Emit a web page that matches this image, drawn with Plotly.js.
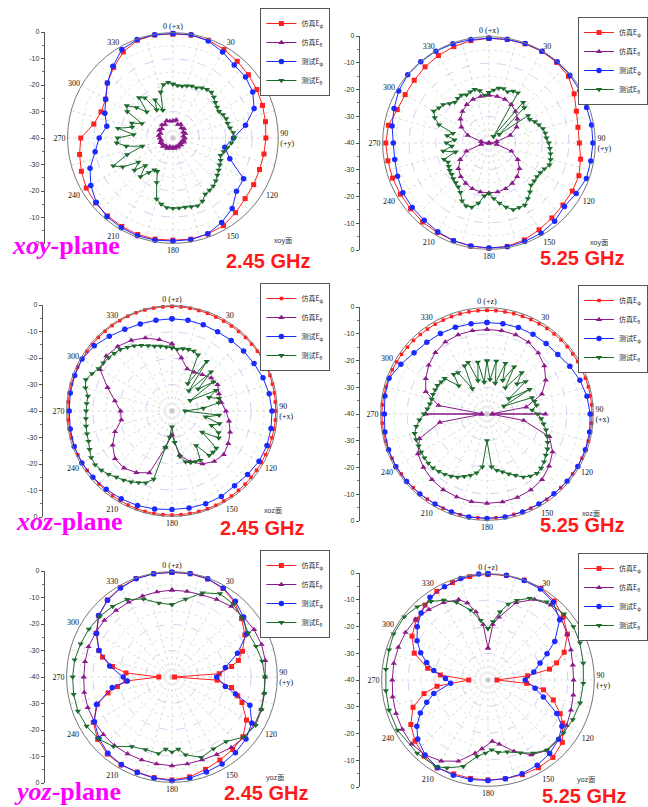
<!DOCTYPE html>
<html><head><meta charset="utf-8">
<script src="https://cdn.plot.ly/plotly-3.0.1.min.js"></script>
<style>html,body{margin:0;padding:0;background:#fff}#chart{width:648px;height:807px}</style>
</head><body><div id="chart"></div>
<script>
const W = 648, H = 807;

// ---------- angle grids ----------
const TH10 = [0,10,20,30,40,50,60,70,80,90,100,110,120,130,140,150,160,170,180,190,200,210,220,230,240,250,260,270,280,290,300,310,320,330,340,350];
const TH5 = [0,5,10,15,20,25,30,35,40,45,50,55,60,65,70,75,80,85,90,95,100,105,110,115,120,125,130,135,140,145,150,155,160,165,170,175,180,185,190,195,200,205,210,215,220,225,230,235,240,245,250,255,260,265,270,275,280,285,290,295,300,305,310,315,320,325,330,335,340,345,350,355];
const GRID_ANGLES = [0,15,30,45,60,75,90,105,120,135,150,165,180,195,210,225,240,255,270,285,300,315,330,345];
const LABEL_ANGLES = [0,30,60,90,120,150,180,210,240,270,300,330];
const LEFT_TICKVALS = [40,30,20,10,0,-10,-20,-30,-40];
const LEFT_TICKTEXT = ['0','-10','-20','-30','-40','-30','-20','-10','0'];

// ---------- panel 1: xoy, 2.45 GHz ----------
const p1_red = [-0.5,-0.3,-0.5,-1.2,-2.0,-2.6,-3.2,-3.8,-4.3,-4.7,-4.9,-5.0,-4.6,-4.2,-3.0,-1.6,-1.2,-1.0,-1.2,-1.0,-1.0,-1.2,-1.4,-1.6,-2.0,-3.0,-4.0,-5.0,-9.5,-11.0,-10.5,-7.5,-5.0,-2.3,-0.5,-0.3];
const p1_purple = [-33.5,-33,-34.5,-34,-35,-34.5,-35.5,-35,-36,-35.5,-36,-35.5,-36.5,-36,-36.5,-36,-36.5,-36,-36.5,-36,-36.5,-35.5,-36,-35,-35.5,-35,-35.5,-35,-34.5,-35,-34,-34.5,-33.5,-34,-33,-33.5];
const p1_blue = [-0.3,-0.2,-0.8,-2.3,-3.8,-4.0,-5.0,-7.2,-12,-17,-20,-17,-9,-8.5,-5,-3,-1.3,-0.8,-0.9,-0.6,-0.5,-0.7,-1.0,-2.0,-4.0,-6.5,-10,-12,-14.5,-12.5,-10.5,-7.5,-4.5,-1.2,-0.2,-0.2];
const p1_green = [-19.5,-20,-20,-19.5,-19,-19,-18,-17.5,-17.3,-18,-19,-19.5,-19.8,-19,-18.5,-18.5,-18,-17,-16.6,-17.7,-19,-20,-20.8,-20,-19.5,-18.8,-18,-17,-16.2,-15.8,-15.4,-13.5,-12.6,-13,-13.3,-13.3,-13.3,-13.5,-14.5,-16,-22,-26,-26,-24,-20.8,-25.2,-21,-24,-18,-15,-21.5,-28,-22,-18.6,-19,-25,-18.8,-24,-23.4,-27,-20,-18.6,-22,-26,-20,-21.4,-27.7,-24,-28.8,-22,-19.4,-18.8];

// ---------- panel 2: xoy, 5.25 GHz ----------
const p2_red = [-0.6,-0.5,-0.3,-0.2,-0.4,-1.0,-3.0,-5.0,-6.0,-6.0,-5.0,-4.0,-3.8,-3.7,-3.2,-2.3,-1.2,-0.5,-0.4,-0.6,-0.9,-1.1,-1.2,-1.5,-1.5,-1.4,-1.4,-1.2,-1.6,-3.3,-3.6,-3.3,-2.6,-2.0,-1.4,-0.9];
const p2_purple = [-22,-22.2,-22.5,-23.3,-24.5,-26,-28,-31.5,-37,-40,-37,-31,-27.5,-25,-23.5,-22.5,-21.7,-21.3,-21.2,-21.3,-21.7,-22.5,-23.5,-25,-27.5,-31,-37,-40,-37,-31.5,-28,-26,-24.5,-23.3,-22.5,-22.2];
const p2_blue = [-0.6,-0.4,-0.2,-0.1,-0.1,-0.3,-0.5,-0.9,-0.8,-0.9,-1.1,-1.0,-2.1,-2.9,-1.6,-0.8,-0.6,-0.4,-0.5,-0.7,-0.9,-1.5,-2.1,-2.3,-2.6,-3.4,-4.0,-4.0,-3.0,-2.0,-0.8,-0.1,-0.1,-0.1,-0.3,-0.5];
const p2_green = [-21,-20,-19,-18.8,-19.5,-18.5,-18.2,-37,-20,-21.2,-35,-22,-22.3,-21,-20,-19,-18.5,-18.3,-17.5,-17,-16.5,-16,-15.8,-17,-17.7,-18,-17.8,-17.6,-16,-14.5,-13,-13.2,-13.3,-15,-17,-19,-21,-20,-17,-15,-14.8,-16,-18.5,-19.8,-20.5,-21,-21.7,-22,-22.5,-23,-22,-27,-22.5,-26,-24,-27,-24,-26,-20,-17.5,-16,-17,-17.5,-19,-20,-19.5,-19.2,-20,-19.5,-19.1,-20,-22];

// ---------- panel 3: xoz, 2.45 GHz ----------
const p3_red = [-0.3,-0.3,-0.4,-0.5,-0.5,-0.6,-0.6,-0.6,-0.6,-0.5,-0.5,-0.4,-0.4,-0.4,-0.4,-0.5,-0.5,-0.6,-0.6,-0.6,-0.6,-0.7,-0.7,-0.8,-0.8,-0.8,-0.8,-0.7,-0.7,-0.6,-0.6,-0.5,-0.5,-0.5,-0.5,-0.5,-0.5,-0.5,-0.5,-0.5,-0.6,-0.6,-0.7,-0.7,-0.8,-0.8,-0.8,-0.7,-0.7,-0.6,-0.6,-0.5,-0.5,-0.5,-0.5,-0.5,-0.5,-0.5,-0.5,-0.5,-0.6,-0.6,-0.6,-0.5,-0.5,-0.4,-0.4,-0.3,-0.3,-0.3,-0.3,-0.3];
const p3_purple = [-14.5,-19.5,-23,-23,-22,-20.5,-20,-21,-21,-19.5,-18,-16.5,-15.3,-14.3,-15,-16.8,-19.5,-23,-31,-26,-15,-13,-11.7,-11.8,-14,-17,-20.5,-20.5,-18,-14,-8.5,-7.5,-8,-9,-10.5,-12.5];
const p3_blue = [-5.0,-5.0,-5.2,-5.3,-5.0,-4.5,-4.0,-3.2,-2.5,-2.0,-1.8,-1.6,-1.8,-2.5,-3.0,-2.5,-2.5,-2.6,-2.6,-2.2,-1.8,-1.5,-1.2,-0.8,-0.5,-0.5,-0.8,-1.0,-0.8,-0.7,-0.6,-1.5,-3.0,-4.2,-4.8,-5.0];
const p3_green = [-16,-16.4,-16,-15.8,-15.8,-16.5,-28,-17,-30,-19,-27,-20.8,-32,-21.5,-25,-21.5,-22,-28,-35,-22,-27,-21.3,-24,-20.5,-19.5,-26,-18,-17.9,-18,-24,-18.4,-18.8,-19.2,-20,-22.5,-28,-34,-30,-26,-13.2,-11,-10,-8.9,-8,-7.2,-6,-5,-4.4,-4.6,-5.5,-6.3,-6.6,-6.9,-7.2,-7.4,-7.5,-7.6,-6,-5.2,-6.5,-7.8,-8.2,-8.6,-9,-9.5,-10.5,-11.4,-12.5,-13.6,-14.5,-15,-15.6];

// ---------- panel 4: xoz, 5.25 GHz ----------
const p4_red = [-1.0,-1.0,-1.0,-0.9,-0.9,-0.8,-0.8,-0.7,-0.7,-0.6,-0.6,-0.6,-0.6,-0.6,-0.6,-0.5,-0.5,-0.5,-0.5,-0.5,-0.5,-0.5,-0.6,-0.6,-0.7,-0.7,-0.8,-0.8,-0.8,-0.8,-0.9,-0.9,-0.9,-0.9,-0.8,-0.8,-0.8,-0.8,-0.8,-0.8,-0.9,-0.9,-0.9,-0.9,-0.8,-0.8,-0.7,-0.7,-0.6,-0.6,-0.5,-0.5,-0.5,-0.5,-0.5,-0.5,-0.6,-0.6,-0.7,-0.7,-0.8,-0.8,-0.9,-0.9,-1.0,-1.0,-1.0,-1.0,-1.0,-1.0,-1.0,-1.0];
const p4_purple_th = [0,10,20,30,40,50,60,70,80,87,90,93,100,110,120,130,140,150,160,170,180,190,200,210,220,230,240,250,260,267,270,273,280,290,300,310,320,330,340,350];
const p4_purple = [-8.2,-8.2,-8.3,-8.8,-10,-11.8,-14.5,-18,-25,-38,-18,-38,-26,-15,-11.5,-9.5,-7.8,-7,-6.6,-6.4,-6.4,-6.5,-6.8,-7.1,-7.8,-8.8,-10,-13,-22,-38,-17,-38,-21.5,-15.5,-13.4,-11.4,-9.8,-8.7,-8.3,-8.2];
const p4_blue = [-5.6,-5.5,-5.4,-5.4,-5.4,-5.2,-4.0,-2.8,-1.8,-1.2,-0.8,-0.6,-0.5,-0.6,-0.8,-0.9,-0.8,-0.7,-0.7,-0.7,-0.8,-0.9,-0.7,-0.5,-0.4,-0.6,-1.0,-1.4,-1.0,-0.8,-2.6,-4.2,-4.8,-5.0,-5.3,-5.5];
const p4_green = [-20,-27,-19.8,-28,-19.7,-26,-19.5,-28,-19.7,-24,-21,-30,-21.5,-33,-22,-21.5,-21,-23,-21,-19.5,-18.4,-17,-16,-14.8,-13.7,-13,-12,-11.2,-10.8,-11.5,-12.6,-14.5,-16,-17.5,-18.5,-20,-30,-20,-17.5,-16.1,-15,-13.8,-13,-12.3,-11.8,-11.3,-11.2,-11.3,-11.4,-11.6,-11.7,-11.8,-13,-14.5,-16.3,-17.5,-18.2,-18.5,-18.4,-18.5,-18.5,-19,-19.2,-25,-20.5,-21,-29,-20,-19.3,-27,-20.2,-28];

// ---------- panel 5: yoz, 2.45 GHz ----------
const p5_red_th = [0,10,20,30,40,50,60,70,76,80,86,90,94,100,106,110,120,130,140,150,160,170,180,190,200,210,220,230,240,250,256,260,265,270,275,280,286,290,300,310,320,330,340,350];
const p5_red = [-0.3,-0.2,-0.4,-1.2,-3.0,-5.5,-8,-11.5,-14,-17,-22,-39,-22.8,-17,-14,-11.7,-7.3,-4.8,-4.1,-3.6,-2.7,-1.5,-0.9,-1.2,-1.6,-1.4,-1.8,-3.2,-5.5,-10,-15,-19,-22.4,-35,-22.5,-17.1,-12.6,-10.5,-6.8,-3.8,-1.8,-0.8,-0.2,-0.2];
const p5_purple = [-7.0,-7.0,-6.8,-6.0,-5.0,-4.5,-4.0,-3.8,-4.0,-4.6,-4.5,-4.0,-3.8,-4.2,-5,-6,-6.5,-6.5,-6.3,-6.5,-6.5,-6.3,-6,-6,-6,-6,-6.2,-6.5,-6.5,-6.3,-6.5,-6.5,-7,-7.2,-7.3,-7.2];
const p5_blue_th = [0,10,20,30,40,50,60,70,80,90,100,105,110,120,130,140,150,160,170,180,190,200,210,220,230,240,250,260,265,270,280,290,300,310,320,330,340,350];
const p5_blue = [-0.2,-0.1,-0.3,-1.0,-2.5,-4.5,-7.2,-13.5,-19.4,-23,-19.4,-15,-8.5,-5,-3.3,-2.5,-1.9,-1.6,-1.0,-0.6,-1.0,-1.4,-1.6,-2.2,-3.8,-6,-9.5,-17,-23,-21.5,-16,-10.5,-7,-3.6,-2,-1,-0.3,-0.2];
const p5_green_th = [0,10,20,30,40,50,60,70,80,90,100,110,120,130,140,150,160,170,175,180,185,190,200,210,220,230,240,250,260,270,280,290,300,310,320,330,340,350];
const p5_green = [-12.5,-10,-6,-3.5,-3.8,-5.2,-6.5,-6.0,-5.2,-4.7,-4.3,-3.8,-3.3,-4.5,-8,-8.5,-7.5,-10,-12.5,-11.5,-12.5,-10.5,-10.7,-9.5,-5.5,-3.5,-2.6,-2.0,-2.1,-2.3,-2.5,-3.1,-3.6,-4.2,-5,-6,-8.5,-11.5];

// ---------- panel 6: yoz, 5.25 GHz ----------
const p6_red_th = [0,10,20,30,40,50,60,70,76,80,84,90,95,100,107,115,120,130,140,150,160,170,180,190,200,210,220,230,240,250,258,263,270,276,281,290,300,310,320,330,340,350];
const p6_red = [-0.2,-0.1,0,-0.1,-1.2,-3.0,-5.5,-9.5,-13.4,-16.5,-25,-36.6,-25.4,-18.8,-14.3,-10,-7.5,-3.5,-2.0,-1.9,-2.1,-2.3,-2.4,-2.4,-2.4,-1.8,-2.6,-4.2,-6.5,-10,-15.4,-20.7,-32.8,-22,-16.9,-10.5,-7,-4.8,-3.2,-1.5,-1.0,-0.5];
const p6_purple_th = [0,5,10,20,30,40,50,60,70,80,90,100,110,120,130,140,150,160,170,176,185,190,200,210,220,230,240,250,260,270,280,290,300,310,320,330,340,345,350,355];
const p6_purple = [-28,-19,-16,-9,-5,-3.2,-4.0,-5.6,-6.8,-7.6,-7.8,-7.4,-6.8,-5.8,-5.2,-5.4,-7.5,-11.5,-15.5,-16.9,-14,-12,-7.5,-4.8,-3.2,-2.5,-2.8,-3.2,-3.6,-4,-4,-4.1,-4.2,-4.4,-5.4,-6.4,-7.8,-10,-14,-19];
const p6_blue_th = [0,10,20,30,40,50,60,66,72,80,90,100,107,116,122,130,140,150,160,170,180,190,200,210,220,230,237,244,250,256,265,272,280,286,292,299,307,315,325,335,345,355];
const p6_blue = [0,0,-0.2,-0.5,-1.8,-4.8,-11,-15.7,-19.4,-22.5,-26,-22,-18.2,-11.2,-7.2,-5.3,-3.9,-3,-2.5,-2.3,-2.2,-2,-1.9,-2,-3.2,-5.5,-8.1,-11.7,-15.5,-19,-25.9,-24,-19.3,-16,-12.7,-9.5,-6.7,-4.4,-2,-1.3,-0.5,0];
const p6_green_th = [0,5,10,15,20,27,37,49,58,68,80,92,104,115,125,140,148,156,165,172,177,182,188,196,205,211,224,241,253,264,276,287,296,307,316,324,331,338,346,353];
const p6_green = [-20.6,-18,-14,-10.5,-8.1,-5.5,-3.2,-2.1,-2.1,-2.7,-3.6,-4.1,-4.3,-4.8,-5.3,-5.6,-7.6,-10,-12,-12.5,-13.7,-12.5,-11,-6.2,-3.5,-2,-1.7,-1.1,-1.1,-1.4,-1.4,-1.1,-0.5,-0.5,-1.7,-3.5,-5.7,-8.5,-12.9,-17.4];

// ---------- legend names ----------
const NAME_RED = '仿真E<sub>φ</sub>';
const NAME_PURPLE = '仿真E<sub>θ</sub>';
const NAME_BLUE = '测试E<sub>φ</sub>';
const NAME_GREEN = '测试E<sub>θ</sub>';

const SERIES = [
  [[TH10,p1_red],[TH10,p1_purple],[TH10,p1_blue],[TH5,p1_green]],
  [[TH10,p2_red],[TH10,p2_purple],[TH10,p2_blue],[TH5,p2_green]],
  [[TH5,p3_red],[TH10,p3_purple],[TH10,p3_blue],[TH5,p3_green]],
  [[TH5,p4_red],[p4_purple_th,p4_purple],[TH10,p4_blue],[TH5,p4_green]],
  [[p5_red_th,p5_red],[TH10,p5_purple],[p5_blue_th,p5_blue],[p5_green_th,p5_green]],
  [[p6_red_th,p6_red],[p6_purple_th,p6_purple],[p6_blue_th,p6_blue],[p6_green_th,p6_green]]
];

// ---------- styling / layout (not data) ----------
const STY = [
  {name:NAME_RED, color:'#ff2020', symbol:'square', size:5},
  {name:NAME_PURPLE, color:'#8a1a8a', symbol:'triangle-up', size:5.5},
  {name:NAME_BLUE, color:'#1a2aff', symbol:'circle', size:5.5},
  {name:NAME_GREEN, color:'#1c6a2c', symbol:'triangle-down', size:5.5}
];
const RED_SIZE = [5,5,3.5,3.5,5,5];
const PANELS = [
  {cx:174, cy:138, R:106, ax:45,  l0:'0 (+x)', l90:'90<br>(+y)', lx:262, ly:8,   freq:[270,261], small:['xoy面',285,240]},
  {cx:492, cy:143, R:107, ax:362, l0:'0 (+x)', l90:'90<br>(+y)', lx:582, ly:17,  freq:[586,258], small:['xoy面',603,242]},
  {cx:173, cy:411, R:106, ax:43,  l0:'0 (+z)', l90:'90<br>(+x)', lx:262, ly:283, freq:[264,528], small:['xoz面',275,510]},
  {cx:490, cy:414, R:107, ax:362, l0:'0 (+z)', l90:'90<br>(+x)', lx:582, ly:285, freq:[586,525], small:['xoz面',595,513]},
  {cx:173, cy:677, R:106, ax:45,  l0:'0 (+z)', l90:'90<br>(+y)', lx:262, ly:550, freq:[268,793], small:['yoz面',277,777]},
  {cx:491, cy:680, R:107, ax:362, l0:'0 (+z)', l90:'90<br>(+y)', lx:582, ly:553, freq:[588,796], small:['yoz面',590,779]}
];
const FREQS = ['2.45 GHz','5.25 GHz','2.45 GHz','5.25 GHz','2.45 GHz','5.25 GHz'];
const PLANES = [['<i>xoy</i>-plane',10,246],['<i>xoz</i>-plane',14,521],['<i>yoz</i>-plane',12,791]];

const px = v => v / W;
const py = v => 1 - v / H;
const closeLoop = a => a.concat([a[0]]);

const layout = {
  width: W, height: H,
  margin: {l:0, r:0, t:0, b:0},
  paper_bgcolor: '#fff',
  showlegend: true,
  annotations: []
};
const data = [];

PANELS.forEach((p, i) => {
  const dom = {x:[px(p.cx - p.R), px(p.cx + p.R)], y:[py(p.cy + p.R), py(p.cy - p.R)]};
  const gid = i === 0 ? 'polar' : 'polar' + (i + 1);
  const did = 'polar' + (i + 7);
  const labels = LABEL_ANGLES.map(a => a === 0 ? p.l0 : (a === 90 ? p.l90 : String(a)));
  layout[gid] = {
    domain: dom, bgcolor: '#fff',
    radialaxis: {range:[-40,0], tickmode:'array', tickvals:[-30,-20,-10], showticklabels:false, ticks:'', showline:false,
                 gridcolor:'#b4b4ee', griddash:'dash', gridwidth:0.6},
    angularaxis: {rotation:90, direction:'clockwise', tickmode:'array', tickvals:GRID_ANGLES, showticklabels:false, ticks:'',
                  showline:false, gridcolor:'#c4c4c4', griddash:'dot', gridwidth:0.6}
  };
  data.push({type:'scatterpolar', subplot:gid, r:[], theta:[], showlegend:false, hoverinfo:'skip'});
  layout[did] = {
    domain: dom, bgcolor: 'rgba(0,0,0,0)',
    radialaxis: {range:[-40,0], tickmode:'array', tickvals:[-35,-25,-15,-5], showticklabels:false, ticks:'', showline:false,
                 gridcolor:'#b6e4b6', griddash:'dot', gridwidth:0.6},
    angularaxis: {rotation:90, direction:'clockwise', tickmode:'array', tickvals:LABEL_ANGLES, ticktext:labels, ticks:'',
                  showgrid:false, showline:true, linecolor:'#777', linewidth:1,
                  tickfont:{family:'Liberation Serif', size:8, color:'#111'}}
  };
  const legId = i === 0 ? 'legend' : 'legend' + (i + 1);
  layout[legId] = {
    x: px(p.lx), y: py(p.ly), xanchor:'left', yanchor:'top',
    bgcolor:'#fff', bordercolor:'#555', borderwidth:1,
    font:{family:'Noto Sans CJK SC', size:7, color:'#222'},
    itemwidth:30, tracegroupgap:0
  };
  SERIES[i].forEach((s, k) => {
    const st = STY[k];
    const sz = k === 0 ? RED_SIZE[i] : st.size;
    data.push({
      type:'scatterpolar', subplot: did, legend: legId,
      theta: closeLoop(s[0]), r: closeLoop(s[1]),
      mode:'lines+markers', name: st.name,
      line:{color:st.color, width:1},
      marker:{symbol:st.symbol, size:sz, color:st.color, line:{width:0}},
      hoverinfo:'skip'
    });
  });
  // left dB scale
  const xk = i === 0 ? 'xaxis' : 'xaxis' + (i + 1);
  const yk = i === 0 ? 'yaxis' : 'yaxis' + (i + 1);
  const xr = i === 0 ? 'x' : 'x' + (i + 1);
  const yr = i === 0 ? 'y' : 'y' + (i + 1);
  layout[xk] = {domain:[px(p.ax), px(p.ax) + 0.01], range:[0,1], visible:false, fixedrange:true};
  layout[yk] = {anchor:xr, domain:dom.y, range:[-40,40], tickmode:'array', tickvals:LEFT_TICKVALS, ticktext:LEFT_TICKTEXT,
                showline:true, linecolor:'#555', linewidth:1, ticks:'outside', ticklen:3, tickcolor:'#555',
                showgrid:false, zeroline:false, fixedrange:true,
                tickfont:{family:'Liberation Sans', size:7, color:'#333'},
                minor:{tickmode:'linear', tick0:0, dtick:5, ticks:'outside', ticklen:2, tickcolor:'#777'}};
  data.push({type:'scatter', x:[], y:[], xaxis:xr, yaxis:yr, showlegend:false, hoverinfo:'skip'});
  // frequency label
  layout.annotations.push({xref:'paper', yref:'paper', x:px(p.freq[0]), y:py(p.freq[1]), xanchor:'center', yanchor:'middle',
    text:FREQS[i], showarrow:false, font:{family:'Liberation Sans', size:20, color:'#ff1a1a', weight:'bold'}});
  // small plane caption
  layout.annotations.push({xref:'paper', yref:'paper', x:px(p.small[1]), y:py(p.small[2]), xanchor:'center', yanchor:'middle',
    text:p.small[0], showarrow:false, font:{family:'Noto Sans CJK SC', size:7, color:'#333'}});
});

PLANES.forEach(pl => {
  layout.annotations.push({xref:'paper', yref:'paper', x:px(pl[1]), y:py(pl[2]), xanchor:'left', yanchor:'middle',
    text:'<b>' + pl[0] + '</b>', showarrow:false, font:{family:'Liberation Serif', size:26, color:'#ff00ff'}});
});

Plotly.newPlot('chart', data, layout, {staticPlot:true, displayModeBar:false});
</script>
</body></html>
